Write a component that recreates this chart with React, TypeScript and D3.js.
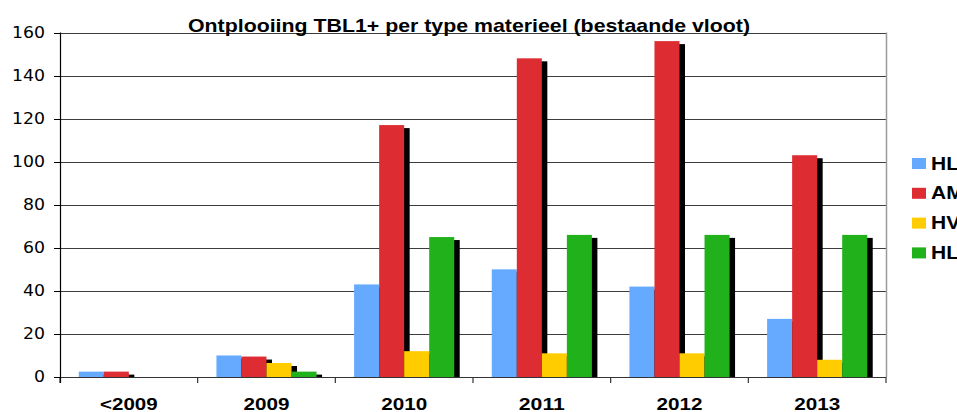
import React from "react";
import * as d3 from "d3";

// Deployment of TBL1+ per material type, existing fleet
const categories = ["<2009", "2009", "2010", "2011", "2012", "2013"];
const seriesNames = ["HL", "AM", "HV", "HL"];
const hlValues = [2.5, 10, 43, 50, 42, 27];
const amValues = [2.5, 9.5, 117, 148, 156, 103];
const hvValues = [0, 6.5, 12, 11, 11, 8];
const hl2Values = [0, 2.5, 65, 66, 66, 66];
const yTicks = [0, 20, 40, 60, 80, 100, 120, 140, 160];
const title = "Ontplooiing TBL1+ per type materieel (bestaande vloot)";

const seriesValues = [hlValues, amValues, hvValues, hl2Values];
const colors = ["#66aaff", "#de2c33", "#ffcc00", "#21b21b"];

const W = 957;
const H = 412;
const plot = { left: 60, right: 886, top: 32.5, bottom: 377 };
const shadowDx = 5.5;
const shadowDy = 3;

export default function App() {
  const x = d3
    .scaleBand<string>()
    .domain(categories)
    .range([plot.left, plot.right])
    .paddingInner(0)
    .paddingOuter(0);
  const inner = d3
    .scaleBand<number>()
    .domain(d3.range(seriesValues.length))
    .range([0, x.bandwidth()])
    .paddingInner(0)
    .paddingOuter(0.75);
  const y = d3.scaleLinear().domain([0, 160]).range([plot.bottom, plot.top]);

  const bars = seriesValues.flatMap((vals, si) =>
    vals.map((v, ci) => ({
      si,
      ci,
      x: (x(categories[ci]) as number) + (inner(si) as number),
      y: y(v),
      w: inner.bandwidth(),
      h: y(0) - y(v),
    }))
  );

  const boundaries = [...categories.map((c) => x(c) as number), plot.right];

  return (
    <div style={{ position: "absolute", left: 0, top: 0 }}>
      <svg width={W} height={H} style={{ display: "block", background: "#fff" }}>
        <defs>
          <clipPath id="plotClip">
            <rect x={plot.left} y={0} width={plot.right - plot.left} height={plot.bottom} />
          </clipPath>
        </defs>

        {/* gridlines */}
        {yTicks.map((t) => (
          <line
            key={"g" + t}
            x1={plot.left}
            x2={plot.right}
            y1={Math.round(y(t)) + 0.5}
            y2={Math.round(y(t)) + 0.5}
            stroke="#3c3c3c"
            strokeWidth={1}
          />
        ))}

        {/* right border of plot area */}
        <line x1={plot.right + 0.5} x2={plot.right + 0.5} y1={plot.top} y2={plot.bottom} stroke="#9a9a9a" strokeWidth={1.5} />

        {/* bar shadows */}
        <g clipPath="url(#plotClip)">
          {bars
            .filter((b) => b.h > 0)
            .map((b) => (
              <rect
                key={`s${b.si}-${b.ci}`}
                x={b.x + shadowDx}
                y={b.y + shadowDy}
                width={b.w}
                height={Math.max(0, b.h - shadowDy)}
                fill="#000"
              />
            ))}
        </g>

        {/* bars */}
        {bars
          .filter((b) => b.h > 0)
          .map((b) => (
            <rect key={`b${b.si}-${b.ci}`} x={b.x} y={b.y} width={b.w} height={b.h} fill={colors[b.si]} />
          ))}

        {/* x axis */}
        <line x1={plot.left} x2={plot.right} y1={plot.bottom + 0.5} y2={plot.bottom + 0.5} stroke="#333" strokeWidth={1.2} />
        {boundaries.map((bx, i) => (
          <line key={"xt" + i} x1={bx} x2={bx} y1={plot.bottom} y2={plot.bottom + 6} stroke="#333" strokeWidth={1.2} />
        ))}
        {categories.map((c) => (
          <text
            key={"xl" + c}
            x={(x(c) as number) + x.bandwidth() / 2}
            y={410}
            textAnchor="middle"
            fontFamily="'Liberation Sans', Arial, sans-serif"
            fontWeight="bold"
            fontSize={16.5}
            textLength={c.length * 11.5}
            lengthAdjust="spacingAndGlyphs"
            fill="#000"
          >
            {c}
          </text>
        ))}

        {/* y axis */}
        <line x1={plot.left + 0.5} x2={plot.left + 0.5} y1={plot.top} y2={plot.bottom + 6} stroke="#000" strokeWidth={1.2} />
        {yTicks.map((t) => (
          <g key={"yt" + t}>
            <line x1={plot.left - 6} x2={plot.left} y1={Math.round(y(t)) + 0.5} y2={Math.round(y(t)) + 0.5} stroke="#000" strokeWidth={1} />
            <text
              x={45}
              y={y(t)}
              dy="0.36em"
              textAnchor="end"
              fontFamily="'DejaVu Sans', Verdana, sans-serif"
              fontSize={15}
              textLength={String(t).length * 11}
              lengthAdjust="spacingAndGlyphs"
              fill="#000"
            >
              {t}
            </text>
          </g>
        ))}

        {/* title */}
        <text
          x={188}
          y={31.5}
          fontFamily="'Liberation Sans', Arial, sans-serif"
          fontWeight="bold"
          fontSize={19}
          textLength={562}
          lengthAdjust="spacingAndGlyphs"
          fill="#000"
        >
          {title}
        </text>

        {/* legend */}
        {seriesNames.map((name, i) => {
          const top = 158 + i * 29.8;
          return (
            <g key={"lg" + i}>
              <rect x={912} y={top} width={14} height={11} fill={colors[i]} />
              <text
                transform={`translate(931, ${top + 11.5}) scale(1.2, 1)`}
                fontFamily="'Liberation Sans', Arial, sans-serif"
                fontWeight="bold"
                fontSize={17.5}
                fill="#000"
              >
                {name}
              </text>
            </g>
          );
        })}
      </svg>
    </div>
  );
}
